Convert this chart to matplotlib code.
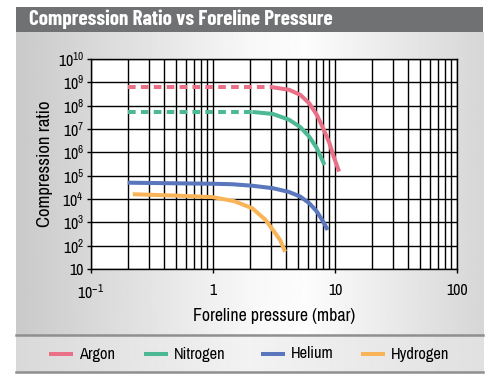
import numpy as np
import matplotlib
matplotlib.use('Agg')
import matplotlib.pyplot as plt
from matplotlib.lines import Line2D
from matplotlib.patches import Rectangle
from matplotlib.ticker import FixedLocator, LogLocator, NullFormatter

plt.rcParams['font.family'] = ['Archivo Narrow', 'DejaVu Sans']
plt.rcParams['mathtext.fontset'] = 'custom'
plt.rcParams['mathtext.rm'] = 'Archivo Narrow'
plt.rcParams['mathtext.it'] = 'Archivo Narrow'

# --------- data ---------
gases = ['Argon', 'Nitrogen', 'Helium', 'Hydrogen']
colors = ['#ea7088', '#4cb894', '#5a76bc', '#f8b457']

argon_dash_x = [0.2, 3.05]
argon_dash_y = [6.2e8, 6.2e8]
argon_x = [3.05, 4.2, 5.2, 6.15, 7.1, 8.0, 9.0, 9.76, 10.8]
argon_y = [6.2e8, 4.8e8, 2.9e8, 1.26e8, 4.0e7, 1.07e7, 2.5e6, 6.5e5, 1.5e5]

nitrogen_dash_x = [0.2, 2.1]
nitrogen_dash_y = [5.4e7, 5.4e7]
nitrogen_x = [2.1, 3.1, 4.2, 5.2, 6.15, 7.1, 8.2]
nitrogen_y = [5.4e7, 4.4e7, 2.5e7, 1.2e7, 4.7e6, 1.5e6, 2.9e5]

helium_x = [0.2, 1.0, 1.43, 2.1, 3.1, 4.2, 5.2, 6.15, 7.1, 8.0, 8.7]
helium_y = [5.0e4, 4.5e4, 4.3e4, 3.7e4, 2.9e4, 2.0e4, 1.26e4, 6.6e3, 2.9e3, 1.07e3, 4.7e2]

hydrogen_x = [0.22, 0.5, 1.0, 1.5, 2.1, 2.7, 3.1, 3.56, 3.9]
hydrogen_y = [1.6e4, 1.4e4, 1.2e4, 8.0e3, 4.0e3, 1.26e3, 4.7e2, 1.7e2, 5.5e1]

y_ticks = [10.0 ** k for k in range(1, 11)]
y_labels = ['10'] + [r'$\mathregular{10^{%d}}$' % k for k in range(2, 11)]
x_ticks = [0.1, 1, 10, 100]
x_labels = [r'$\mathregular{10^{-1}}$', '1', '10', '100']

W, H = 500, 385
fig = plt.figure(figsize=(W / 100, H / 100), dpi=100)


def fx(px):
    return px / W


def fy(py):
    return 1 - py / H


# --------- panel background ---------
bg = fig.add_axes([fx(16), fy(335), fx(467), (335 - 32) / H], zorder=-10)
grad = np.interp(np.linspace(0, 1, 400), [0, 0.5, 0.62, 1], [0.79, 0.97, 0.99, 0.84])
bg.imshow(np.tile(grad, (2, 1)), cmap='gray', vmin=0, vmax=1, aspect='auto',
          extent=[0, 1, 0, 1])
bg.set_axis_off()

leg = fig.add_axes([fx(16), fy(372), fx(467), 37 / H], zorder=-10)
grad2 = np.interp(np.linspace(0, 1, 400), [0, 0.5, 1], [0.85, 0.95, 0.88])
leg.imshow(np.tile(grad2, (2, 1)), cmap='gray', vmin=0, vmax=1, aspect='auto',
           extent=[0, 1, 0, 1])
leg.set_axis_off()

fig.add_artist(Rectangle((fx(16), fy(32)), fx(467), 25 / H, transform=fig.transFigure,
                         facecolor='#707173', edgecolor='none'))
fig.text(fx(29), fy(19.5), 'Compression Ratio vs Foreline Pressure', color='white',
         fontsize=15.2, fontweight='bold', va='center', ha='left',
         family=['Barlow Condensed', 'DejaVu Sans'])
for yy in (335, 372):
    fig.add_artist(Line2D([fx(16), fx(483)], [fy(yy), fy(yy)], transform=fig.transFigure,
                          color='#8e8f91', lw=1.8))

# --------- main chart ---------
ax = fig.add_axes([fx(91), fy(269), fx(366), 210 / H])
ax.set_facecolor('white')
ax.set_xscale('log')
ax.set_yscale('log')
ax.set_xlim(0.1, 100)
ax.set_ylim(10, 1e10)

ax.xaxis.set_major_locator(FixedLocator(x_ticks))
ax.xaxis.set_minor_locator(LogLocator(base=10, subs=np.arange(2, 10)))
ax.xaxis.set_minor_formatter(NullFormatter())
ax.set_xticklabels(x_labels)
ax.yaxis.set_major_locator(FixedLocator(y_ticks))
ax.yaxis.set_minor_locator(FixedLocator([]))
ax.set_yticklabels(y_labels)

ax.grid(True, which='major', color='black', lw=1)
ax.grid(True, which='minor', axis='x', color='black', lw=1)
ax.set_axisbelow(True)
for s in ax.spines.values():
    s.set_color('black')
    s.set_linewidth(1)
ax.tick_params(which='major', length=3, width=1, labelsize=11.5, colors='black')
ax.tick_params(axis='x', pad=7)
ax.tick_params(axis='y', pad=2)
ax.tick_params(which='minor', length=0)

lw = 2.9
dash = dict(ls=(0, (1.9, 1.3)), dash_capstyle='butt')
ax.plot(argon_dash_x, argon_dash_y, color=colors[0], lw=lw, **dash)
ax.plot(argon_x, argon_y, color=colors[0], lw=lw, solid_capstyle='butt')
ax.plot(nitrogen_dash_x, nitrogen_dash_y, color=colors[1], lw=lw, **dash)
ax.plot(nitrogen_x, nitrogen_y, color=colors[1], lw=lw, solid_capstyle='butt')
ax.plot(helium_x, helium_y, color=colors[2], lw=lw, solid_capstyle='butt')
ax.plot(hydrogen_x, hydrogen_y, color=colors[3], lw=lw, solid_capstyle='butt')

ax.set_xlabel('Foreline pressure (mbar)', fontsize=12.8, labelpad=5)
ax.set_ylabel('Compression ratio', fontsize=13.5, labelpad=3)

# --------- legend ---------
leg_x = [49, 144, 261, 361]
for name, col, x0 in zip(gases, colors, leg_x):
    fig.add_artist(Line2D([fx(x0), fx(x0 + 24)], [fy(354), fy(354)], transform=fig.transFigure,
                          color=col, lw=lw, solid_capstyle='butt'))
    fig.text(fx(x0 + 30), fy(354), name, fontsize=11.8, va='center', ha='left')

fig.savefig('out.png', dpi=100)
